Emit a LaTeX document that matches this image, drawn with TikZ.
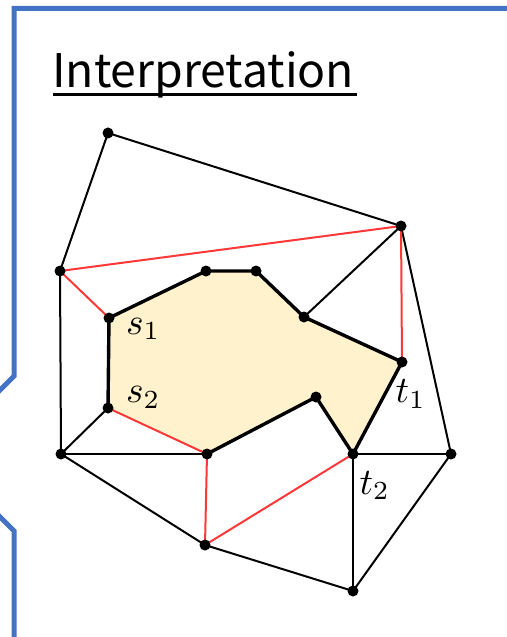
\documentclass[tikz,border=0pt]{standalone}
\usepackage{fontspec}
\usepackage{graphicx}
\newfontfamily\titlefont{Noto Sans CJK JP}
\definecolor{framblue}{HTML}{4472C4}
\definecolor{redline}{RGB}{255,55,55}
\definecolor{polyfill}{HTML}{FFF2CC}
\tikzset{
  thinedge/.style={black, line width=2.0bp},
  rededge/.style={redline, line width=2.0bp},
  thickedge/.style={black, line width=3.4bp, line join=round},
  dot/.style={circle, fill=black, inner sep=0pt, minimum size=11bp},
  lbl/.style={anchor=base west, inner sep=0pt}
}
\begin{document}
\begin{tikzpicture}[x=1bp,y=-1bp]
\useasboundingbox (0,0) rectangle (507,637);
% frame
\draw[framblue, line width=5bp, line join=miter]
  (520,8.5) -- (14.2,8.5) -- (14.2,376) -- (-20,410) -- (-20,497) -- (14.2,531) -- (14.2,639.5) -- (520,639.5);
% title
\node[anchor=base west, inner sep=0pt] (title) at (52,87.3) {\resizebox{302bp}{!}{\titlefont Interpretation}};
\draw[line width=2.8bp] (53,94.4) -- (357.3,94.4);
% coordinates
\coordinate (A) at (108,133);
\coordinate (B) at (401,226);
\coordinate (C) at (60,271);
\coordinate (S1) at (109,318);
\coordinate (S2) at (108,408);
\coordinate (D) at (61,454);
\coordinate (E) at (206,271);
\coordinate (F) at (256,271);
\coordinate (G) at (207,454);
\coordinate (H) at (304,317);
\coordinate (T1) at (402,362);
\coordinate (I) at (316,397);
\coordinate (T2) at (353,454);
\coordinate (J) at (451,454);
\coordinate (K) at (205,545);
\coordinate (L) at (353,591);
% polygon fill
\fill[polyfill] (S1) -- (E) -- (F) -- (H) -- (T1) -- (T2) -- (I) -- (G) -- (S2) -- cycle;
% thin black edges
\draw[thinedge] (A) -- (B);
\draw[thinedge] (A) -- (C);
\draw[thinedge] (C) -- (D);
\draw[thinedge] (D) -- (S2);
\draw[thinedge] (D) -- (G);
\draw[thinedge] (D) -- (K);
\draw[thinedge] (B) -- (H);
\draw[thinedge] (B) -- (J);
\draw[thinedge] (T2) -- (J);
\draw[thinedge] (J) -- (L);
\draw[thinedge] (T2) -- (L);
\draw[thinedge] (K) -- (L);
% red edges
\draw[rededge] (C) -- (B);
\draw[rededge] (C) -- (S1);
\draw[rededge] (S2) -- (G);
\draw[rededge] (B) -- (T1);
\draw[rededge] (G) -- (K);
\draw[rededge] (K) -- (T2);
% polygon boundary
\draw[thickedge] (S2) -- (S1) -- (E) -- (F) -- (H) -- (T1) -- (T2) -- (I) -- (G);
% dots
\foreach \p in {A,B,C,S1,S2,D,E,F,G,H,T1,I,T2,J,K,L}
  \node[dot] (dot\p) at (\p) {};
% labels
\node[lbl] (ls1) at (126,334) {\scalebox{3.75}{$s_1$}};
\node[lbl] (ls2) at (126,402.5) {\scalebox{3.75}{$s_2$}};
\node[lbl] (lt1) at (395.5,402.5) {\scalebox{3.75}{$t_1$}};
\node[lbl] (lt2) at (359.5,494) {\scalebox{3.75}{$t_2$}};
\end{tikzpicture}
\end{document}
